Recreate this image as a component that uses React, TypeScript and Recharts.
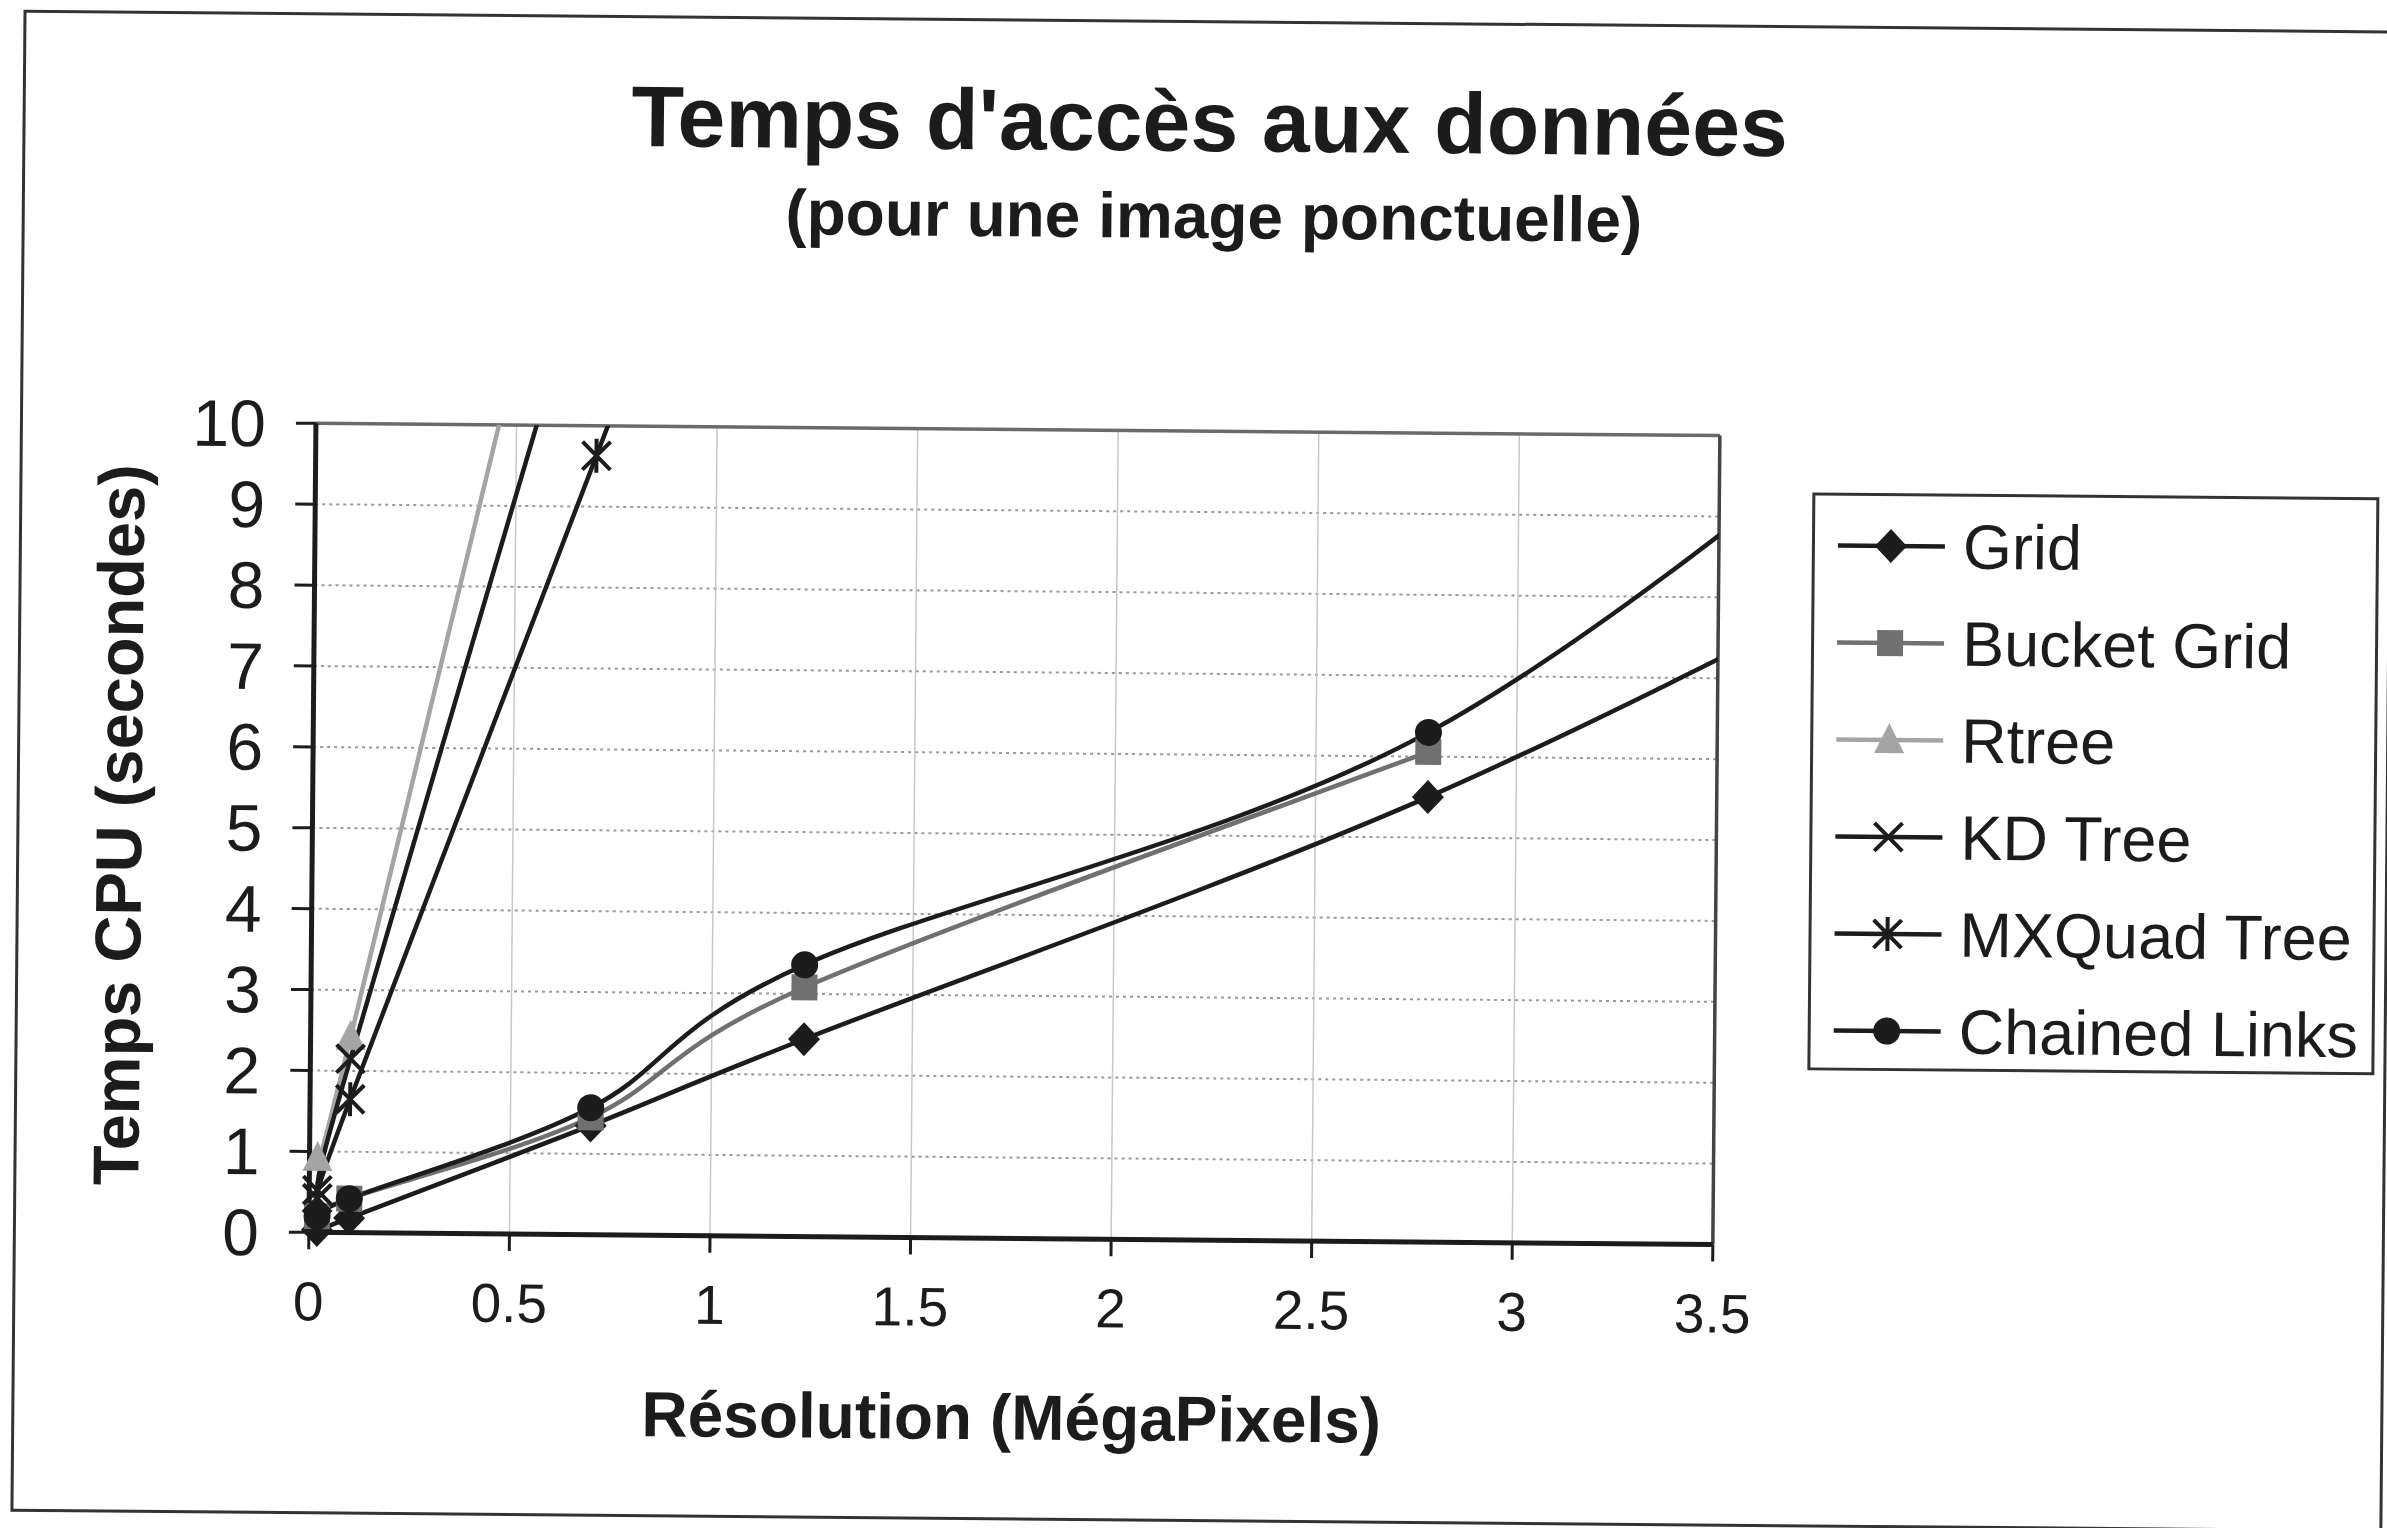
import React from 'react';
import {
  LineChart,
  Line,
  XAxis,
  YAxis,
  CartesianGrid,
  ReferenceLine,
  ReferenceDot
} from 'recharts';

// resolution in megapixels for each measured image size
const resolution = [0.02, 0.1, 0.7, 1.23, 2.78, 4.19];

// CPU time (seconds) per structure, one value per resolution above
const gridTimes = [0.03, 0.18, 1.35, 2.44, 5.5, 9.0];
const bucketGridTimes = [0.2, 0.42, 1.45, 3.08, 6.06];
const rtreeTimes = [0.92, 2.42, 15.2];
const kdTreeTimes = [0.52, 2.15, 12.6];
const mxQuadTimes = [0.42, 1.65, 9.63, 16.7];
const chainedTimes = [0.2, 0.42, 1.57, 3.36, 6.3, 11.5];

const xTicks = [0, 0.5, 1, 1.5, 2, 2.5, 3, 3.5];
const yTicks = [0, 1, 2, 3, 4, 5, 6, 7, 8, 9, 10];

const FONT = '"Liberation Sans", Arial, Helvetica, sans-serif';
const INK = '#1c1c1c';

type MarkerKind = 'diamond' | 'square' | 'triangle' | 'cross' | 'star' | 'circle';

interface Series {
  name: string;
  values: number[];
  color: string;
  marker: MarkerKind;
}

const series: Series[] = [
  { name: 'Grid', values: gridTimes, color: INK, marker: 'diamond' },
  { name: 'Bucket Grid', values: bucketGridTimes, color: '#707070', marker: 'square' },
  { name: 'Rtree', values: rtreeTimes, color: '#a4a4a4', marker: 'triangle' },
  { name: 'KD Tree', values: kdTreeTimes, color: INK, marker: 'cross' },
  { name: 'MXQuad Tree', values: mxQuadTimes, color: INK, marker: 'star' },
  { name: 'Chained Links', values: chainedTimes, color: INK, marker: 'circle' }
];

const toPoints = (values: number[]) => values.map((t, i) => ({ x: resolution[i], t }));

// spreadsheet-style smoothing: bezier segments with control arms of 1/6 of the neighbour span
const smoothCurve = (context: any) => {
  let pts: [number, number][] = [];
  return {
    areaStart() {},
    areaEnd() {},
    lineStart() {
      pts = [];
    },
    point(x: number, y: number) {
      pts.push([+x, +y]);
    },
    lineEnd() {
      if (!pts.length) return;
      context.moveTo(pts[0][0], pts[0][1]);
      for (let i = 0; i < pts.length - 1; i++) {
        const p0 = pts[i - 1] || pts[i];
        const p1 = pts[i];
        const p2 = pts[i + 1];
        const p3 = pts[i + 2] || p2;
        context.bezierCurveTo(
          p1[0] + (p2[0] - p0[0]) / 6,
          p1[1] + (p2[1] - p0[1]) / 6,
          p2[0] - (p3[0] - p1[0]) / 6,
          p2[1] - (p3[1] - p1[1]) / 6,
          p2[0],
          p2[1]
        );
      }
    }
  };
};

const Marker = ({ kind, cx, cy, color }: { kind: MarkerKind; cx: number; cy: number; color: string }) => {
  switch (kind) {
    case 'diamond':
      return <polygon points={`${cx},${cy - 17} ${cx + 16},${cy} ${cx},${cy + 17} ${cx - 16},${cy}`} fill={color} />;
    case 'square':
      return <rect x={cx - 13} y={cy - 13} width={26} height={26} fill={color} />;
    case 'triangle':
      return <polygon points={`${cx},${cy - 17} ${cx + 15},${cy + 13} ${cx - 15},${cy + 13}`} fill={color} />;
    case 'cross':
      return (
        <path
          d={`M${cx - 14},${cy - 14}L${cx + 14},${cy + 14}M${cx + 14},${cy - 14}L${cx - 14},${cy + 14}`}
          stroke={color}
          strokeWidth={4}
        />
      );
    case 'star':
      return (
        <path
          d={`M${cx - 14},${cy - 14}L${cx + 14},${cy + 14}M${cx + 14},${cy - 14}L${cx - 14},${cy + 14}M${cx},${cy - 17}L${cx},${cy + 17}`}
          stroke={color}
          strokeWidth={4}
        />
      );
    default:
      return <circle cx={cx} cy={cy} r={13.5} fill={color} />;
  }
};

const legendRows = [53, 150, 247, 344, 441, 538];

const App = () => {
  return (
    <div
      style={{
        position: 'absolute',
        left: 0,
        top: 0,
        width: 2387,
        height: 1528,
        background: '#fff',
        overflow: 'hidden'
      }}
    >
      <div
        style={{
          position: 'absolute',
          left: 0,
          top: 0,
          width: 2387,
          height: 1528,
          transform: 'rotate(0.5deg)',
          transformOrigin: '1193px 764px'
        }}
      >
        {/* outer frame */}
        <div
          style={{
            position: 'absolute',
            left: 17,
            top: 20,
            width: 2372,
            height: 1502,
            border: '3px solid #333',
            boxSizing: 'border-box'
          }}
        />

        <LineChart
          width={2387}
          height={1528}
          margin={{ top: 431, right: 670, bottom: 188, left: 213 }}
          style={{ position: 'absolute', left: 0, top: 0 }}
        >
          <CartesianGrid horizontal vertical={false} stroke="#9a9a9a" strokeWidth={2} strokeDasharray="3 4" />
          <CartesianGrid horizontal={false} vertical stroke="#c8c8c8" strokeWidth={1.5} />
          <XAxis
            type="number"
            dataKey="x"
            domain={[0, 3.5]}
            ticks={xTicks}
            interval={0}
            allowDataOverflow
            height={100}
            tickSize={17}
            tickMargin={32}
            tick={{ fontSize: 55, fill: INK, fontFamily: FONT }}
            axisLine={{ stroke: INK, strokeWidth: 5 }}
            tickLine={{ stroke: INK, strokeWidth: 3 }}
          />
          <YAxis
            type="number"
            dataKey="t"
            domain={[0, 10]}
            ticks={yTicks}
            interval={0}
            allowDataOverflow
            width={100}
            tickSize={20}
            tickMargin={30}
            tick={{ fontSize: 66, fill: INK, fontFamily: FONT }}
            axisLine={{ stroke: INK, strokeWidth: 5 }}
            tickLine={{ stroke: INK, strokeWidth: 3 }}
          />
          <ReferenceLine y={10} stroke="#6a6a6a" strokeWidth={3.5} />
          <ReferenceLine x={3.5} stroke="#444" strokeWidth={3.5} />

          {series.map((s) => (
            <Line
              key={s.name}
              name={s.name}
              data={toPoints(s.values)}
              dataKey="t"
              type={smoothCurve as any}
              stroke={s.color}
              strokeWidth={4.5}
              dot={false}
              activeDot={false}
              isAnimationActive={false}
            />
          ))}

          {series.flatMap((s) =>
            toPoints(s.values)
              .filter((p) => p.t <= 10 && p.x <= 3.5)
              .map((p, i) => (
                <ReferenceDot
                  key={`${s.name}-${i}`}
                  x={p.x}
                  y={p.t}
                  r={13}
                  ifOverflow="visible"
                  isFront
                  shape={(props: any) => <Marker kind={s.marker} cx={props.cx} cy={props.cy} color={s.color} />}
                />
              ))
          )}
        </LineChart>

        {/* titles */}
        <svg
          width={2387}
          height={1528}
          style={{ position: 'absolute', left: 0, top: 0, pointerEvents: 'none' }}
          fontFamily={FONT}
          fill={INK}
        >
          <text x={1204} y={151} fontSize={86} fontWeight="bold" textAnchor="middle">
            Temps d'accès aux données
          </text>
          <text x={1209} y={238} fontSize={64} fontWeight="bold" textAnchor="middle">
            (pour une image ponctuelle)
          </text>
          <text
            x={142}
            y={834}
            fontSize={65}
            fontWeight="bold"
            textAnchor="middle"
            transform="rotate(-90 142 834)"
          >
            Temps CPU (secondes)
          </text>
          <text x={1017} y={1441} fontSize={64} fontWeight="bold" textAnchor="middle">
            Résolution (MégaPixels)
          </text>
        </svg>

        {/* legend */}
        <div
          style={{
            position: 'absolute',
            left: 1810,
            top: 487,
            width: 567,
            height: 578,
            border: '3px solid #333',
            boxSizing: 'border-box',
            background: '#fff'
          }}
        >
          <svg width={567} height={578} style={{ position: 'absolute', left: -3, top: -3 }} fontFamily={FONT}>
            {series.map((s, i) => (
              <g key={s.name}>
                <line x1={26} x2={133} y1={legendRows[i]} y2={legendRows[i]} stroke={s.color} strokeWidth={4.5} />
                <Marker kind={s.marker} cx={79} cy={legendRows[i]} color={s.color} />
                <text x={151} y={legendRows[i] + 22} fontSize={63} fill={INK}>
                  {s.name}
                </text>
              </g>
            ))}
          </svg>
        </div>
      </div>
    </div>
  );
};

export default App;
